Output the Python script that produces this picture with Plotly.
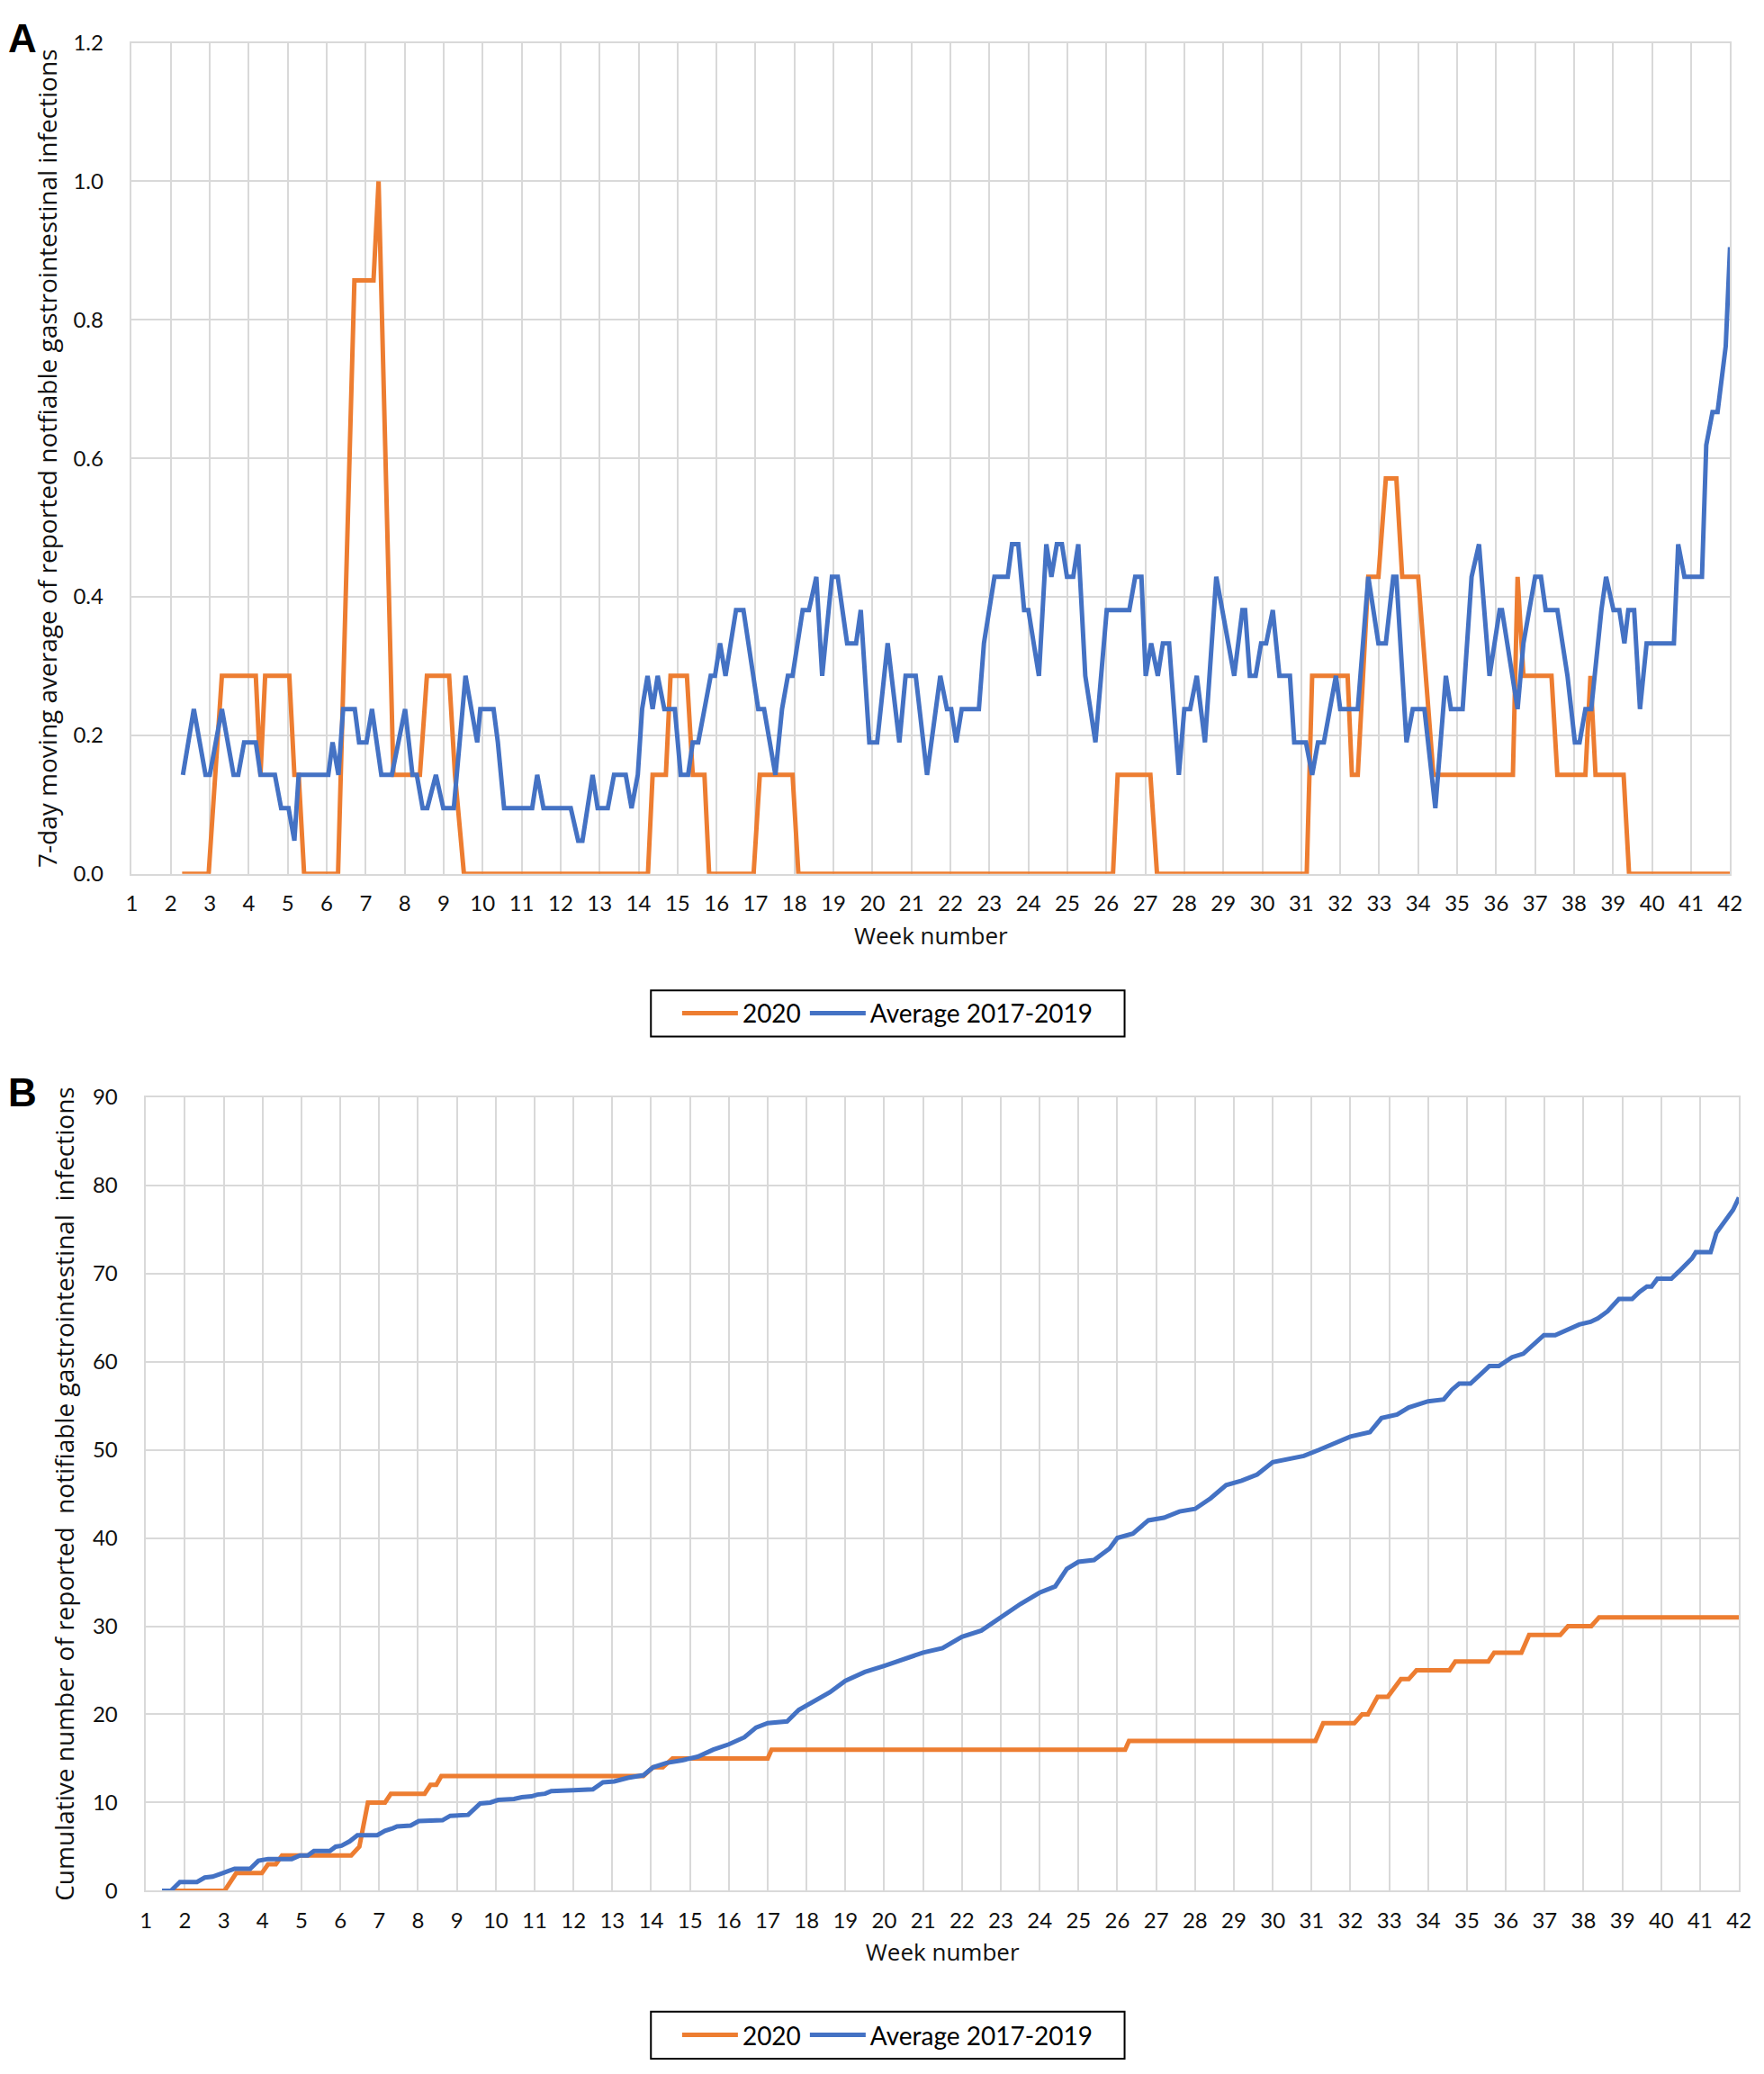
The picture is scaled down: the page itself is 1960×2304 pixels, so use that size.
import plotly.graph_objects as go

# ---------------- Panel A: 7-day moving average ----------------
a2020_week = [2.29, 2.97, 3.31, 4.18, 4.30, 4.42, 5.04, 5.17, 5.28, 5.42, 6.29, 6.71, 7.20, 7.33,
              7.71, 8.39, 8.57, 9.14, 9.29, 9.52, 14.24, 14.36, 14.70, 14.82, 15.24, 15.39, 15.69,
              15.81, 16.95, 17.11, 17.95, 18.10, 26.17, 26.29, 27.13, 27.30, 31.14, 31.28, 32.19,
              32.30, 32.45, 32.72, 32.98, 33.17, 33.44, 33.59, 34.00, 34.39, 36.43, 36.55, 36.70,
              37.42, 37.57, 38.29, 38.42, 38.55, 39.27, 39.41, 42.00]
a2020_value = [0, 0, 0.286, 0.286, 0.143, 0.286, 0.286, 0.143, 0.143, 0, 0, 0.857, 0.857, 1.0,
               0.143, 0.143, 0.286, 0.286, 0.143, 0, 0, 0.143, 0.143, 0.286, 0.286, 0.143, 0.143,
               0, 0, 0.143, 0.143, 0, 0, 0.143, 0.143, 0, 0, 0.286, 0.286,
               0.143, 0.143, 0.429, 0.429, 0.571, 0.571, 0.429, 0.429, 0.143, 0.143, 0.429, 0.286,
               0.286, 0.143, 0.143, 0.286, 0.143, 0.143, 0, 0]

aavg_week = [2.31, 2.59, 2.89, 3.00, 3.31, 3.61, 3.73, 3.88, 4.18, 4.30, 4.67, 4.83, 5.02, 5.17,
             5.28, 6.04, 6.15, 6.30, 6.42, 6.72, 6.83, 7.02, 7.16, 7.40, 7.67, 8.01, 8.20, 8.31,
             8.46, 8.58, 8.80, 8.99, 9.26, 9.56, 9.86, 9.94, 10.28, 10.39, 10.55, 11.27, 11.40,
             11.56, 12.26, 12.45, 12.56, 12.82, 12.95, 13.21, 13.37, 13.67, 13.82, 13.98, 14.09,
             14.23, 14.36, 14.49, 14.66, 14.93, 15.08, 15.27, 15.39, 15.53, 15.85, 15.96, 16.09,
             16.23, 16.50, 16.69, 17.07, 17.22, 17.51, 17.68, 17.83, 17.95, 18.21, 18.37, 18.56,
             18.71, 18.96, 19.11, 19.35, 19.58, 19.70, 19.92, 20.12, 20.39, 20.69, 20.85, 21.11,
             21.40, 21.74, 21.91, 22.02, 22.15, 22.29, 22.73, 22.86, 23.13, 23.47, 23.58, 23.74,
             23.89, 24.00, 24.27, 24.46, 24.59, 24.73, 24.86, 24.99, 25.15, 25.28, 25.46, 25.72,
             26.01, 26.59, 26.74, 26.90, 27.01, 27.15, 27.32, 27.45, 27.61, 27.86, 28.00, 28.15,
             28.32, 28.53, 28.82, 29.28, 29.49, 29.56, 29.68, 29.83, 29.97, 30.10, 30.27, 30.44,
             30.71, 30.82, 31.12, 31.28, 31.43, 31.58, 31.89, 32.00, 32.45, 32.72, 32.98, 33.17,
             33.36, 33.44, 33.70, 33.86, 34.16, 34.44, 34.71, 34.84, 35.14, 35.37, 35.56, 35.83,
             36.09, 36.15, 36.55, 36.70, 37.00, 37.15, 37.27, 37.57, 37.83, 38.02, 38.14, 38.29,
             38.44, 38.70, 38.82, 39.01, 39.16, 39.29, 39.39, 39.54, 39.69, 39.86, 40.56, 40.67,
             40.83, 41.28, 41.39, 41.55, 41.68, 41.89, 42.00]
aavg_value = [0.143, 0.238, 0.143, 0.143, 0.238, 0.143, 0.143, 0.190, 0.190, 0.143, 0.143, 0.095,
              0.095, 0.048, 0.143, 0.143, 0.190, 0.143, 0.238, 0.238, 0.190, 0.190, 0.238, 0.143,
              0.143, 0.238, 0.143, 0.143, 0.095, 0.095, 0.143, 0.095, 0.095, 0.286, 0.190, 0.238,
              0.238, 0.190, 0.095, 0.095, 0.143, 0.095, 0.095, 0.048, 0.048, 0.143, 0.095, 0.095,
              0.143, 0.143, 0.095, 0.143, 0.238, 0.286, 0.238, 0.286, 0.238, 0.238, 0.143, 0.143,
              0.190, 0.190, 0.286, 0.286, 0.333, 0.286, 0.381, 0.381, 0.238, 0.238, 0.143, 0.238,
              0.286, 0.286, 0.381, 0.381, 0.429, 0.286, 0.429, 0.429, 0.333, 0.333, 0.381, 0.190,
              0.190, 0.333, 0.190, 0.286, 0.286, 0.143, 0.286, 0.238, 0.238, 0.190, 0.238, 0.238,
              0.333, 0.429, 0.429, 0.476, 0.476, 0.381, 0.381, 0.286, 0.476, 0.429, 0.476, 0.476,
              0.429, 0.429, 0.476, 0.286, 0.190, 0.381, 0.381, 0.429, 0.429, 0.286, 0.333, 0.286,
              0.333, 0.333, 0.143, 0.238, 0.238, 0.286, 0.190, 0.429, 0.286, 0.381, 0.381, 0.286,
              0.286, 0.333, 0.333, 0.381, 0.286, 0.286, 0.190, 0.190, 0.143, 0.190, 0.190, 0.286,
              0.238, 0.238, 0.429, 0.333, 0.333, 0.429, 0.429, 0.190, 0.238, 0.238, 0.095, 0.286,
              0.238, 0.238, 0.429, 0.476, 0.286, 0.381, 0.381, 0.238, 0.333, 0.429, 0.429, 0.381,
              0.381, 0.286, 0.190, 0.190, 0.238, 0.238, 0.381, 0.429, 0.381, 0.381, 0.333, 0.381,
              0.381, 0.238, 0.333, 0.333, 0.476, 0.429, 0.429, 0.619, 0.667, 0.667, 0.762, 0.905]

# ---------------- Panel B: cumulative number ----------------
b2020_week = [1.69, 3.02, 3.32, 3.98, 4.14, 4.34, 4.50, 6.28, 6.49, 6.62, 6.71, 7.15, 7.30, 8.17,
              8.32, 8.47, 8.60, 13.80, 14.05, 14.30, 14.55, 17.00, 17.10, 26.20, 26.30, 31.10,
              31.30, 32.10, 32.30, 32.45, 32.70, 32.96, 33.30, 33.50, 33.70, 34.55, 34.70, 35.55,
              35.70, 36.40, 36.60, 37.40, 37.60, 38.20, 38.40, 42.00]
b2020_value = [0, 0, 2, 2, 3, 3, 4, 4, 5, 8, 10, 10, 11, 11,
               12, 12, 13, 13, 14, 14, 15, 15, 16, 16, 17, 17,
               19, 19, 20, 20, 22, 22, 24, 24, 25, 25, 26, 26,
               27, 27, 29, 29, 30, 30, 31, 31]

bavg_week = [1.41, 1.64, 1.87, 2.31, 2.51, 2.71, 2.97, 3.28, 3.68, 3.89, 4.14, 4.75, 4.96, 5.16,
             5.32, 5.73, 5.88, 6.03, 6.24, 6.44, 6.95, 7.15, 7.36, 7.46, 7.81, 8.02, 8.63, 8.83,
             9.29, 9.60, 9.86, 10.06, 10.47, 10.67, 10.92, 11.07, 11.27, 11.43, 12.00, 12.50,
             12.76, 13.05, 13.40, 13.80, 14.05, 14.40, 14.80, 15.20, 15.60, 16.00, 16.40, 16.70,
             17.00, 17.50, 17.80, 18.20, 18.60, 19.00, 19.50, 20.00, 20.50, 21.00, 21.50, 22.00,
             22.50, 23.00, 23.50, 24.00, 24.40, 24.70, 25.00, 25.40, 25.80, 26.00, 26.40, 26.80,
             27.20, 27.60, 28.00, 28.40, 28.80, 29.20, 29.60, 30.00, 30.40, 30.80, 31.20, 31.60,
             32.00, 32.50, 32.80, 33.20, 33.50, 34.00, 34.40, 34.61, 34.80, 35.09, 35.38, 35.58,
             35.82, 36.16, 36.45, 36.83, 36.98, 37.27, 37.60, 37.89, 38.18, 38.37, 38.62, 38.91,
             39.25, 39.44, 39.63, 39.75, 39.90, 40.26, 40.45, 40.79, 40.89, 41.27, 41.42, 41.66,
             41.85, 42.00]
bavg_value = [0, 0, 1, 1, 1.5, 1.6, 2, 2.5, 2.5, 3.4, 3.6, 3.6, 4, 4,
              4.5, 4.5, 5, 5.1, 5.6, 6.3, 6.3, 6.8, 7.1, 7.3, 7.4, 7.9, 8, 8.5,
              8.6, 9.9, 10, 10.3, 10.4, 10.6, 10.7, 10.9, 11, 11.3, 11.4, 11.5,
              12.3, 12.4, 12.8, 13.1, 14, 14.5, 14.8, 15.2, 16, 16.6, 17.4, 18.5,
              19, 19.2, 20.5, 21.5, 22.5, 23.8, 24.8, 25.5, 26.2, 27, 27.5, 28.8,
              29.5, 31, 32.5, 33.8, 34.5, 36.5, 37.3, 37.5, 38.8, 40, 40.5, 42,
              42.3, 43, 43.3, 44.5, 46, 46.5, 47.2, 48.6, 49, 49.3, 50, 50.8,
              51.5, 52, 53.6, 54, 54.8, 55.5, 55.7, 56.8, 57.5, 57.5, 58.6, 59.5,
              59.5, 60.5, 60.9, 62.3, 63, 63, 63.7, 64.2, 64.5, 64.9, 65.7, 67.1,
              67.1, 67.9, 68.5, 68.5, 69.4, 69.4, 70.2, 71.7, 72.4, 72.4, 74.6, 76.1,
              77.2, 78.6]

series_names = ["2020", "Average 2017-2019"]
y_title_a = "7-day moving average of reported notfiable gastrointestinal infections"
y_title_b = "Cumulative number of reported \u00a0notifiable gastrointestinal \u00a0infections"
x_title = "Week number"

ORANGE = "#ED7D31"
BLUE = "#4472C4"
GRID = "#d9d9d9"
W, H = 1960, 2304

fig = go.Figure()
fig.add_trace(go.Scatter(x=a2020_week, y=a2020_value, name=series_names[0], mode="lines",
                         line=dict(color=ORANGE, width=5), xaxis="x", yaxis="y", legend="legend"))
fig.add_trace(go.Scatter(x=aavg_week, y=aavg_value, name=series_names[1], mode="lines",
                         line=dict(color=BLUE, width=5), xaxis="x", yaxis="y", legend="legend"))
fig.add_trace(go.Scatter(x=b2020_week, y=b2020_value, name=series_names[0], mode="lines",
                         line=dict(color=ORANGE, width=5), xaxis="x2", yaxis="y2", legend="legend2"))
fig.add_trace(go.Scatter(x=bavg_week, y=bavg_value, name=series_names[1], mode="lines",
                         line=dict(color=BLUE, width=5), xaxis="x2", yaxis="y2", legend="legend2"))

tickfont = dict(family="Lato", size=24, color="#111111")
titlefont = dict(family="Open Sans", size=28, color="#111111")
xtitlefont = dict(family="Open Sans", size=26, color="#111111")

common_x = dict(range=[1, 42], tick0=1, dtick=1, showgrid=True, gridcolor=GRID, gridwidth=1.5,
                showline=True, linecolor=GRID, linewidth=1.5, mirror=True, zeroline=False,
                ticks="", tickfont=tickfont, ticklabelstandoff=11)
common_y = dict(showgrid=True, gridcolor=GRID, gridwidth=1.5, showline=True, linecolor=GRID,
                linewidth=1.5, mirror=True, zeroline=False, ticks="", tickfont=tickfont)

# legend frames (drawn as paper rectangles around the legends)
leg_a = (724, 1098, 1256, 1150)
leg_b = (724, 2247, 1256, 2300)


def rect(x0, y0, x1, y1):
    return dict(type="rect", xref="paper", yref="paper", x0=x0 / W, x1=x1 / W,
                y0=1 - y1 / H, y1=1 - y0 / H, line=dict(color="black", width=2),
                fillcolor="rgba(0,0,0,0)", layer="above")


legend_style = dict(orientation="h", xanchor="center", yanchor="middle", borderwidth=0,
                    font=dict(family="Lato", size=28, color="#000"), bgcolor="rgba(0,0,0,0)",
                    itemwidth=62)

fig.update_layout(
    width=W, height=H,
    margin=dict(l=0, r=0, t=0, b=0),
    paper_bgcolor="white", plot_bgcolor="white",
    xaxis=dict(common_x, domain=[141 / W, 1936 / W], anchor="y",
               title=dict(text=x_title, font=xtitlefont, standoff=14)),
    yaxis=dict(common_y, domain=[1 - 967 / H, 1 - 32 / H], anchor="x", range=[0, 1.2], dtick=0.2,
               tickformat=".1f", ticklabelstandoff=25,
               title=dict(text=y_title_a, font=titlefont, standoff=10)),
    xaxis2=dict(common_x, domain=[157 / W, 1946 / W], anchor="y2",
                title=dict(text=x_title, font=xtitlefont, standoff=14)),
    yaxis2=dict(common_y, domain=[1 - 2111 / H, 1 - 1218 / H], anchor="x2", range=[0, 90], dtick=10,
                ticklabelstandoff=25,
                title=dict(text=y_title_b, font=titlefont, standoff=12)),
    legend=dict(legend_style, x=(leg_a[0] + leg_a[2]) / 2 / W, y=1 - (leg_a[1] + leg_a[3]) / 2 / H),
    legend2=dict(legend_style, x=(leg_b[0] + leg_b[2]) / 2 / W, y=1 - (leg_b[1] + leg_b[3]) / 2 / H),
    showlegend=True,
    shapes=[rect(*leg_a), rect(*leg_b)],
    annotations=[
        dict(text="<b>A</b>", x=0, y=1, xref="paper", yref="paper", xanchor="left",
             yanchor="top", showarrow=False, font=dict(family="Liberation Sans", size=44, color="black")),
        dict(text="<b>B</b>", x=0, y=1 - 1186 / H, xref="paper", yref="paper", xanchor="left",
             yanchor="top", showarrow=False, font=dict(family="Liberation Sans", size=44, color="black")),
    ],
)

fig.write_html("out.html", config={"displayModeBar": False},
               post_script="document.body.style.margin='0px';")
